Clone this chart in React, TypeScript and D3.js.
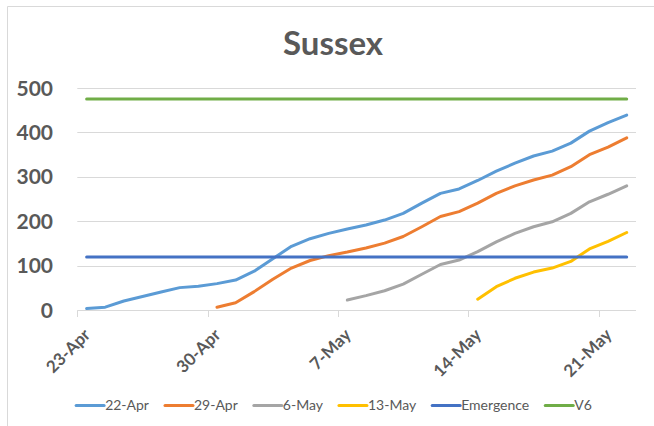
import React, { useEffect, useRef } from "react";
import * as d3 from "d3";

const dates = [
  "23-Apr", "24-Apr", "25-Apr", "26-Apr", "27-Apr", "28-Apr", "29-Apr", "30-Apr",
  "1-May", "2-May", "3-May", "4-May", "5-May", "6-May", "7-May", "8-May", "9-May",
  "10-May", "11-May", "12-May", "13-May", "14-May", "15-May", "16-May", "17-May",
  "18-May", "19-May", "20-May", "21-May", "22-May",
];
const tickLabels = ["23-Apr", "30-Apr", "7-May", "14-May", "21-May"];
const yTicks = [0, 100, 200, 300, 400, 500];

const s22Apr = [4, 7, 21, 31, 41, 51, 54, 60, 68, 88, 116, 144, 161, 173, 183, 192, 203, 218, 241, 263, 273, 292, 313, 331, 347, 358, 376, 403, 422, 439];
const s29Apr = [null, null, null, null, null, null, null, 7, 17, 42, 70, 95, 112, 123, 131, 140, 151, 166, 188, 211, 222, 241, 263, 280, 293, 304, 323, 350, 367, 388];
const s6May = [null, null, null, null, null, null, null, null, null, null, null, null, null, null, 23, 33, 44, 59, 81, 103, 113, 132, 154, 173, 188, 199, 218, 244, 261, 280];
const s13May = [null, null, null, null, null, null, null, null, null, null, null, null, null, null, null, null, null, null, null, null, null, 25, 53, 72, 86, 95, 110, 138, 155, 175];
const emergence = 120;
const v6 = 475;

const seriesNames = ["22-Apr", "29-Apr", "6-May", "13-May", "Emergence", "V6"];
const colors = ["#5B9BD5", "#ED7D31", "#A5A5A5", "#FFC000", "#4472C4", "#70AD47"];

export default function App() {
  const ref = useRef<SVGSVGElement>(null);
  useEffect(() => {
    const svg = d3.select(ref.current);
    svg.selectAll("*").remove();
    const W = 654, H = 426;
    const font = "Lato, 'Open Sans', sans-serif";
    const txt = "#595959";
    const grid = "#d9d9d9";

    svg.append("rect").attr("width", W).attr("height", H).attr("fill", "#fff");
    // border (top & left visible)
    svg.append("path").attr("d", `M7.5,${H} V6.5 H${W}`).attr("fill", "none").attr("stroke", grid).attr("stroke-width", 1);

    const x = d3.scaleBand<string>().domain(dates).range([77.3, 636]).padding(0);
    const cx = (d: string) => (x(d) as number) + x.bandwidth() / 2;
    const y = d3.scaleLinear().domain([0, 500]).range([310.3, 88]);

    // title
    svg.append("text").attr("x", 333).attr("y", 55).attr("text-anchor", "middle")
      .attr("font-family", font).attr("font-weight", 700).attr("font-size", 33).attr("fill", txt).text("Sussex");

    // gridlines
    svg.append("g").selectAll("line").data(yTicks.filter((t) => t > 0)).join("line")
      .attr("x1", 77.3).attr("x2", 636).attr("y1", (d) => Math.round(y(d)) + 0.5).attr("y2", (d) => Math.round(y(d)) + 0.5)
      .attr("stroke", grid).attr("stroke-width", 1);

    // y labels
    svg.append("g").selectAll("text").data(yTicks).join("text")
      .attr("x", 53).attr("y", (d) => y(d)).attr("dy", "0.36em").attr("text-anchor", "end")
      .attr("font-family", font).attr("font-weight", 700).attr("font-size", 21).attr("fill", txt)
      .text((d) => String(d));

    // x axis line + ticks
    svg.append("line").attr("x1", 77.3).attr("x2", 636).attr("y1", 310.5).attr("y2", 310.5).attr("stroke", grid).attr("stroke-width", 1);
    svg.append("g").selectAll("line").data(tickLabels).join("line")
      .attr("x1", (d) => Math.round(x(d) as number) + 0.5).attr("x2", (d) => Math.round(x(d) as number) + 0.5)
      .attr("y1", 310.5).attr("y2", 317).attr("stroke", grid).attr("stroke-width", 1);
    svg.append("g").selectAll("text").data(tickLabels).join("text")
      .attr("transform", (d) => `translate(${(x(d) as number) + 14},336) rotate(-45)`)
      .attr("text-anchor", "end")
      .attr("font-family", font).attr("font-weight", 700).attr("font-size", 17).attr("fill", txt)
      .text((d) => d);

    // series
    const allSeries: (number | null)[][] = [s22Apr, s29Apr, s6May, s13May];
    const line = d3.line<[string, number | null]>()
      .defined((d) => d[1] != null)
      .x((d) => cx(d[0]))
      .y((d) => y(d[1] as number));

    // horizontal reference lines
    const hLine = (val: number, color: string) =>
      svg.append("path")
        .attr("d", line([[dates[0], val], [dates[dates.length - 1], val]]) as string)
        .attr("fill", "none").attr("stroke", color).attr("stroke-width", 3).attr("stroke-linecap", "round");

    hLine(v6, colors[5]);
    allSeries.forEach((s, i) => {
      svg.append("path")
        .attr("d", line(dates.map((d, j) => [d, s[j]])) as string)
        .attr("fill", "none").attr("stroke", colors[i]).attr("stroke-width", 3)
        .attr("stroke-linejoin", "round").attr("stroke-linecap", "round");
    });
    hLine(emergence, colors[4]);

    // legend
    const lg = svg.append("g");
    const items = seriesNames.map((name, i) => {
      const g = lg.append("g");
      g.append("line").attr("x1", 0).attr("x2", 28).attr("y1", 0).attr("y2", 0)
        .attr("stroke", colors[i]).attr("stroke-width", 3).attr("stroke-linecap", "round");
      const t = g.append("text").attr("x", 29).attr("y", 0).attr("dy", "0.35em")
        .attr("font-family", font).attr("font-size", 14).attr("fill", txt).text(name);
      const w = 29 + (t.node() as SVGTextElement).getComputedTextLength();
      return { g, w };
    });
    const gap = 16;
    const total = items.reduce((a, b) => a + b.w, 0) + gap * (items.length - 1);
    let pos = 334 - total / 2;
    items.forEach((it) => {
      it.g.attr("transform", `translate(${pos},405.5)`);
      pos += it.w + gap;
    });
  }, []);
  return (
    <svg ref={ref} width={654} height={426} style={{ position: "absolute", left: 0, top: 0 }} />
  );
}
